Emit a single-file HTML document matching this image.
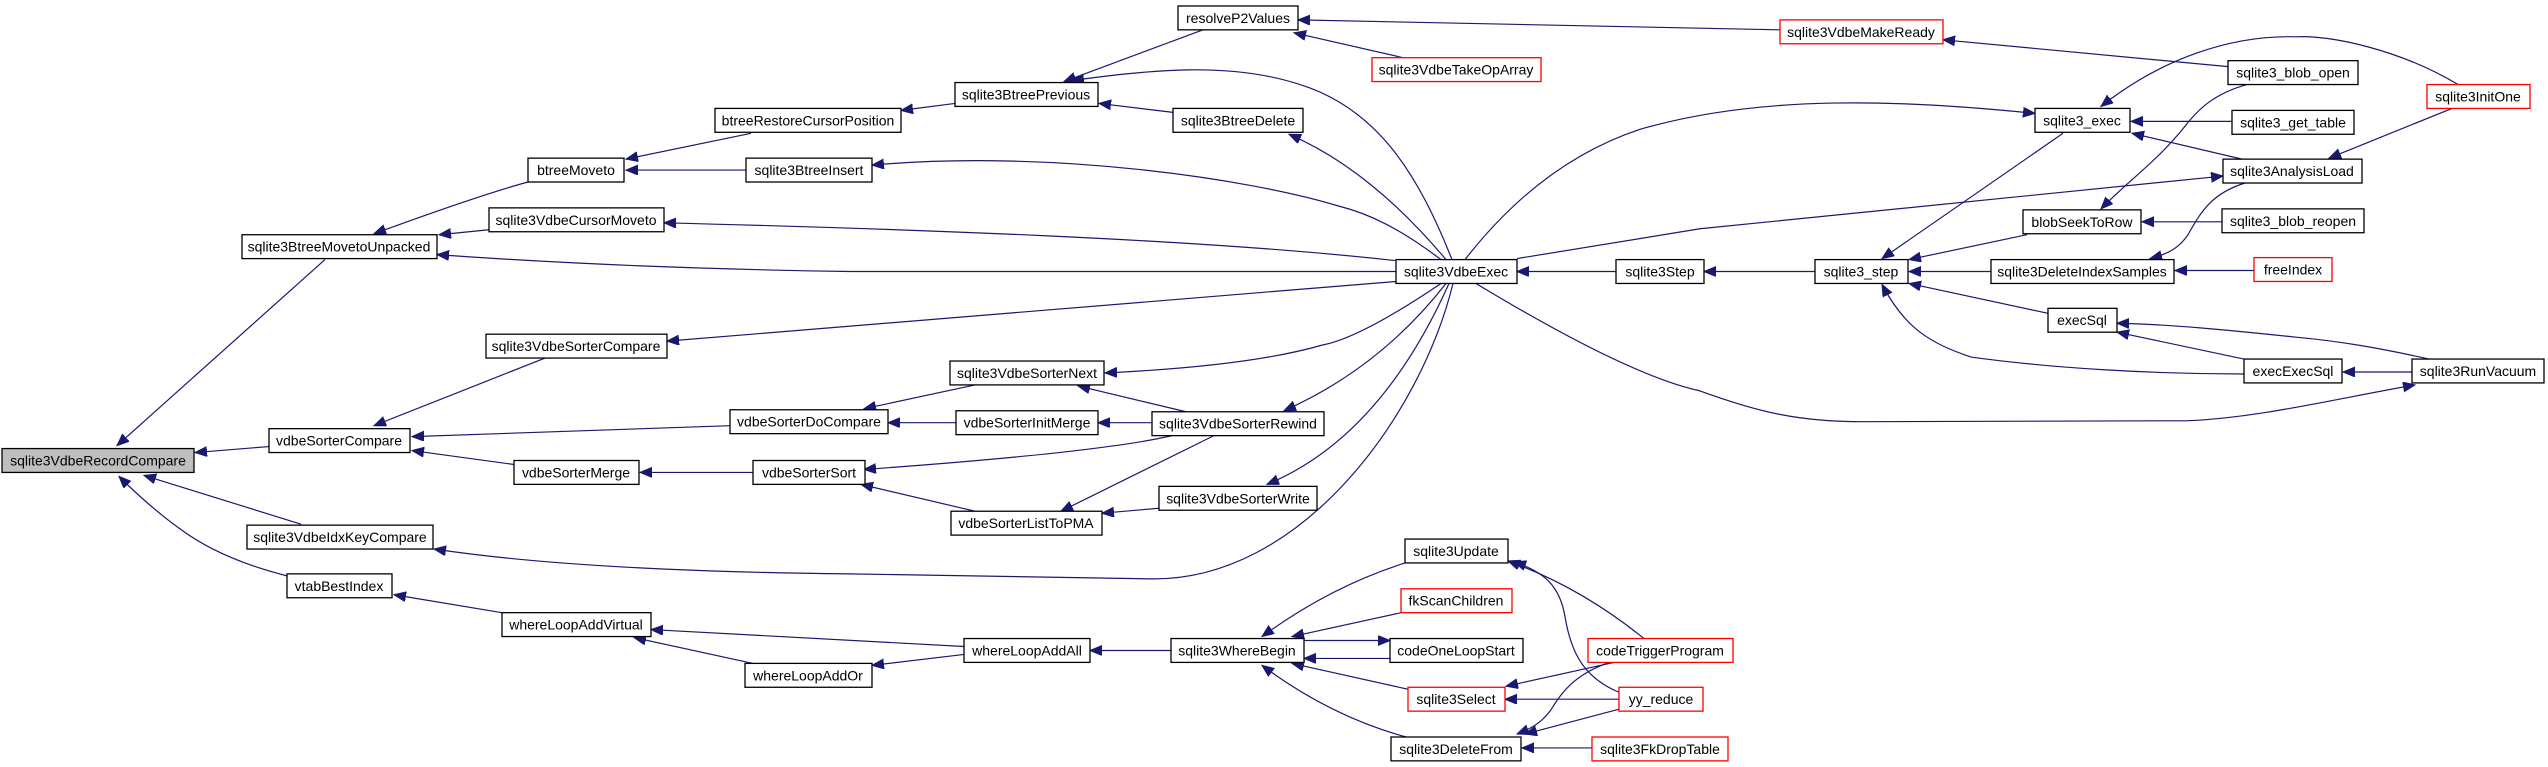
<!DOCTYPE html>
<html><head><meta charset="utf-8">
<style>
html,body{margin:0;padding:0;background:#fff;width:2548px;height:767px;overflow:hidden}
svg text{font-family:"Liberation Sans",Arial,sans-serif;font-size:14px;text-anchor:middle;fill:#000}
.n{fill:#fff;stroke:#000;stroke-width:1.3}
.r{fill:#fff;stroke:#ff0000;stroke-width:1.3}
.g{fill:#bfbfbf;stroke:#000;stroke-width:1.3}
path{fill:none;stroke:#191970;stroke-width:1.2}
</style></head><body>
<svg width="2548" height="767" viewBox="0 0 2548 767" xmlns="http://www.w3.org/2000/svg">
<defs>
<marker id="a" markerUnits="userSpaceOnUse" markerWidth="14" markerHeight="12" refX="12" refY="5" orient="auto">
<path d="M0,0 L12,5 L0,10 Z" style="fill:#191970;stroke:#191970;stroke-width:1"/>
</marker>
</defs>
<g transform="scale(1,0.9946)">
<g marker-end="url(#a)">
<path d="M325,261 L117,448"/>
<path d="M269,449 L195,455"/>
<path d="M301,527 L144,478"/>
<path d="M287,579 Q220,562 179,531 Q150,510 119,479"/>
<path d="M528,183 Q480,196 374,235"/>
<path d="M489,231 L439,236"/>
<path d="M1396,273 L850,273 C650,270 520,262 437,256"/>
<path d="M751,134 L626,160"/>
<path d="M746,171 L626,171"/>
<path d="M545,360 L374,428"/>
<path d="M730,428 L412,439"/>
<path d="M514,467 L412,453"/>
<path d="M753,475 L640,475"/>
<path d="M502,616 L394,598"/>
<path d="M964,650 L651,633"/>
<path d="M753,667 L634,641"/>
<path d="M964,658 L872,669"/>
<path d="M1396,283 L667,343"/>
<path d="M1453,285 C1420,420 1300,585 1150,582 C1000,580 900,577 850,577 C650,575 520,565 434,552"/>
<path d="M955,104 L901,111"/>
<path d="M1203,30 L1064,82"/>
<path d="M1452,261 C1420,180 1380,110 1300,85 C1230,62 1150,70 1072,81"/>
<path d="M1173,113 L1099,104"/>
<path d="M1403,58 L1294,33"/>
<path d="M1780,30 L1298,20"/>
<path d="M1446,261 Q1370,170 1289,135"/>
<path d="M1441,261 C1400,230 1370,215 1338,207 C1250,180 1050,150 872,166"/>
<path d="M1395,262 C1200,240 900,230 664,224"/>
<path d="M1441,285 Q1360,340 1322,347 Q1250,368 1105,375"/>
<path d="M975,387 L864,411"/>
<path d="M1186,414 L1078,388"/>
<path d="M956,425 L888,425"/>
<path d="M1152,425 L1098,425"/>
<path d="M1446,285 Q1380,370 1284,413"/>
<path d="M1172,438 Q1100,455 864,472"/>
<path d="M1214,438 L1061,514"/>
<path d="M975,514 L861,487"/>
<path d="M1159,511 L1102,516"/>
<path d="M1449,285 Q1380,440 1267,487"/>
<path d="M1171,654 L1090,654"/>
<path d="M1405,566 Q1330,590 1262,640"/>
<path d="M1401,616 L1292,640"/>
<path d="M1304,644 L1390,644"/>
<path d="M1390,662 L1304,662"/>
<path d="M1408,693 L1292,667"/>
<path d="M1406,741 Q1330,720 1262,669"/>
<path d="M1644,642 Q1580,590 1508,564"/>
<path d="M1619,696 C1580,680 1570,650 1565,620 C1560,590 1545,575 1514,565"/>
<path d="M1614,666 L1506,690"/>
<path d="M1619,703 L1505,703"/>
<path d="M1609,666 C1570,680 1560,700 1550,715 C1540,728 1530,733 1517,738"/>
<path d="M1619,713 L1525,738"/>
<path d="M1592,752 L1522,752"/>
<path d="M1616,273 L1517,273"/>
<path d="M1465,261 C1520,190 1580,150 1640,130 C1760,95 1900,100 2035,114"/>
<path d="M1517,260 L1700,230 L2223,177"/>
<path d="M1476,285 C1550,330 1640,380 1700,393 C1760,415 1800,424 1863,424 L2188,423 C2260,420 2340,400 2415,387"/>
<path d="M1815,273 L1704,273"/>
<path d="M2228,67 L1943,40"/>
<path d="M2458,85 C2400,50 2330,35 2296,37 C2230,35 2160,60 2101,107"/>
<path d="M2232,122 L2131,122"/>
<path d="M2242,160 L2132,134"/>
<path d="M2452,109 L2329,159"/>
<path d="M2063,134 L1882,260"/>
<path d="M2247,85 C2210,95 2195,115 2188,123 C2160,160 2130,180 2101,210"/>
<path d="M2222,223 L2142,223"/>
<path d="M2027,236 L1909,261"/>
<path d="M1991,273 L1909,273"/>
<path d="M2245,184 C2210,195 2200,215 2188,236 C2180,248 2170,255 2150,260"/>
<path d="M2254,272 L2175,272"/>
<path d="M2048,315 L1909,285"/>
<path d="M2244,376 C2150,376 2050,370 1971,359 C1930,345 1905,330 1882,286"/>
<path d="M2244,361 L2117,334"/>
<path d="M2429,361 C2380,350 2340,343 2296,339 C2230,332 2170,326 2117,325"/>
<path d="M2412,374 L2343,374"/>
</g>
<rect class="g" x="2" y="451" width="192" height="24"/><text x="98" y="468">sqlite3VdbeRecordCompare</text>
<rect class="n" x="242" y="236" width="195" height="24"/><text x="339" y="253">sqlite3BtreeMovetoUnpacked</text>
<rect class="n" x="528" y="159" width="96" height="24"/><text x="576" y="176">btreeMoveto</text>
<rect class="n" x="715" y="109" width="186" height="24"/><text x="808" y="126">btreeRestoreCursorPosition</text>
<rect class="n" x="746" y="159" width="126" height="24"/><text x="809" y="176">sqlite3BtreeInsert</text>
<rect class="n" x="489" y="209" width="175" height="24"/><text x="576" y="226">sqlite3VdbeCursorMoveto</text>
<rect class="n" x="486" y="336" width="181" height="24"/><text x="576" y="353">sqlite3VdbeSorterCompare</text>
<rect class="n" x="269" y="431" width="141" height="24"/><text x="339" y="448">vdbeSorterCompare</text>
<rect class="n" x="730" y="412" width="158" height="24"/><text x="809" y="429">vdbeSorterDoCompare</text>
<rect class="n" x="514" y="463" width="125" height="24"/><text x="576" y="480">vdbeSorterMerge</text>
<rect class="n" x="753" y="463" width="112" height="24"/><text x="809" y="480">vdbeSorterSort</text>
<rect class="n" x="247" y="528" width="186" height="24"/><text x="340" y="545">sqlite3VdbeIdxKeyCompare</text>
<rect class="n" x="287" y="577" width="105" height="24"/><text x="339" y="594">vtabBestIndex</text>
<rect class="n" x="502" y="616" width="149" height="24"/><text x="576" y="633">whereLoopAddVirtual</text>
<rect class="n" x="745" y="667" width="127" height="24"/><text x="808" y="684">whereLoopAddOr</text>
<rect class="n" x="1178" y="6" width="120" height="24"/><text x="1238" y="23">resolveP2Values</text>
<rect class="r" x="1372" y="58" width="169" height="24"/><text x="1456" y="75">sqlite3VdbeTakeOpArray</text>
<rect class="n" x="955" y="83" width="143" height="24"/><text x="1026" y="100">sqlite3BtreePrevious</text>
<rect class="n" x="1173" y="109" width="130" height="24"/><text x="1238" y="126">sqlite3BtreeDelete</text>
<rect class="n" x="1396" y="261" width="121" height="24"/><text x="1456" y="278">sqlite3VdbeExec</text>
<rect class="n" x="1616" y="261" width="88" height="24"/><text x="1660" y="278">sqlite3Step</text>
<rect class="n" x="950" y="363" width="154" height="24"/><text x="1027" y="380">sqlite3VdbeSorterNext</text>
<rect class="n" x="956" y="413" width="142" height="24"/><text x="1027" y="430">vdbeSorterInitMerge</text>
<rect class="n" x="1152" y="414" width="172" height="24"/><text x="1238" y="431">sqlite3VdbeSorterRewind</text>
<rect class="n" x="1159" y="489" width="158" height="24"/><text x="1238" y="506">sqlite3VdbeSorterWrite</text>
<rect class="n" x="951" y="514" width="151" height="24"/><text x="1026" y="531">vdbeSorterListToPMA</text>
<rect class="n" x="1405" y="542" width="103" height="24"/><text x="1456" y="559">sqlite3Update</text>
<rect class="r" x="1401" y="592" width="111" height="24"/><text x="1456" y="609">fkScanChildren</text>
<rect class="n" x="964" y="642" width="126" height="24"/><text x="1027" y="659">whereLoopAddAll</text>
<rect class="n" x="1171" y="642" width="133" height="24"/><text x="1237" y="659">sqlite3WhereBegin</text>
<rect class="n" x="1390" y="642" width="133" height="24"/><text x="1456" y="659">codeOneLoopStart</text>
<rect class="r" x="1588" y="642" width="145" height="24"/><text x="1660" y="659">codeTriggerProgram</text>
<rect class="r" x="1408" y="691" width="97" height="24"/><text x="1456" y="708">sqlite3Select</text>
<rect class="r" x="1619" y="691" width="84" height="24"/><text x="1661" y="708">yy_reduce</text>
<rect class="n" x="1391" y="741" width="130" height="24"/><text x="1456" y="758">sqlite3DeleteFrom</text>
<rect class="r" x="1592" y="741" width="136" height="24"/><text x="1660" y="758">sqlite3FkDropTable</text>
<rect class="r" x="1780" y="20" width="163" height="24"/><text x="1861" y="37">sqlite3VdbeMakeReady</text>
<rect class="n" x="2228" y="61" width="130" height="24"/><text x="2293" y="78">sqlite3_blob_open</text>
<rect class="r" x="2427" y="85" width="103" height="24"/><text x="2478" y="102">sqlite3InitOne</text>
<rect class="n" x="2035" y="109" width="95" height="24"/><text x="2082" y="126">sqlite3_exec</text>
<rect class="n" x="2232" y="111" width="122" height="24"/><text x="2293" y="128">sqlite3_get_table</text>
<rect class="n" x="2223" y="160" width="139" height="24"/><text x="2292" y="177">sqlite3AnalysisLoad</text>
<rect class="n" x="2023" y="211" width="118" height="24"/><text x="2082" y="228">blobSeekToRow</text>
<rect class="n" x="2222" y="210" width="142" height="24"/><text x="2293" y="227">sqlite3_blob_reopen</text>
<rect class="n" x="1815" y="261" width="93" height="24"/><text x="1861" y="278">sqlite3_step</text>
<rect class="n" x="1991" y="261" width="183" height="24"/><text x="2082" y="278">sqlite3DeleteIndexSamples</text>
<rect class="r" x="2254" y="259" width="78" height="24"/><text x="2293" y="276">freeIndex</text>
<rect class="n" x="2048" y="310" width="69" height="24"/><text x="2082" y="327">execSql</text>
<rect class="n" x="2244" y="361" width="98" height="24"/><text x="2293" y="378">execExecSql</text>
<rect class="n" x="2412" y="361" width="132" height="24"/><text x="2478" y="378">sqlite3RunVacuum</text>
</g>
</svg>
</body></html>
